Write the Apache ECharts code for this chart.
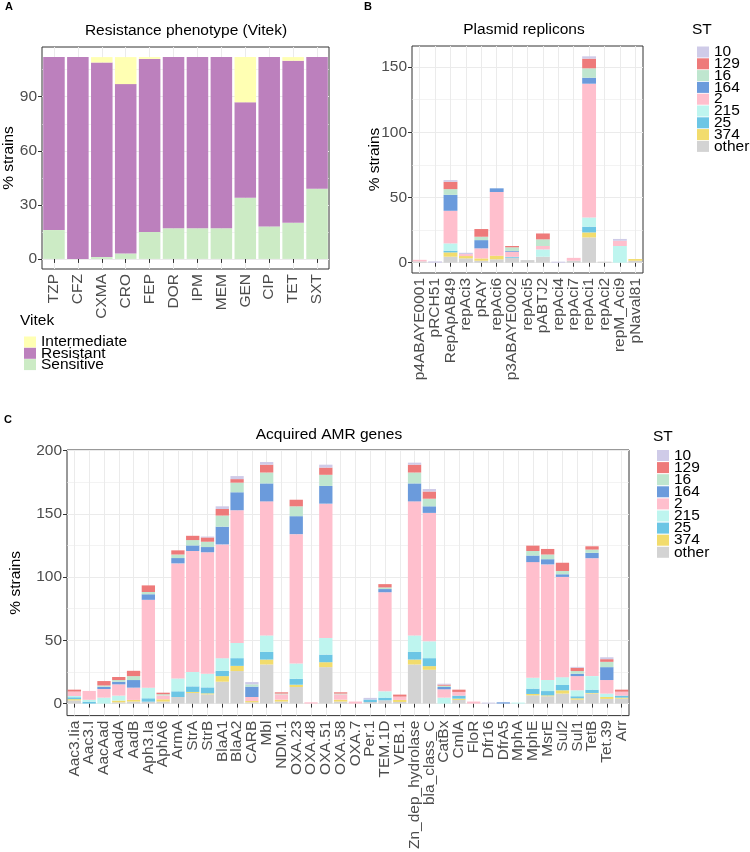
<!DOCTYPE html>
<html><head><meta charset="utf-8">
<script src="https://cdn.jsdelivr.net/npm/echarts@6/dist/echarts.min.js"></script>
<style>html,body{margin:0;padding:0;background:#fff}#c{width:750px;height:852px}</style>
</head><body><div id="c"></div><script>
// ---------- Panel A: Resistance phenotype (Vitek) ----------
const vitekCats = ['TZP','CFZ','CXMA','CRO','FEP','DOR','IPM','MEM','GEN','CIP','TET','SXT'];
const vitekSensitive    = [16, 0, 1, 3, 15, 17, 17, 17, 34, 18, 20, 39];
const vitekResistant    = [96, 112, 108, 94, 96, 95, 95, 95, 53, 94, 90, 73];
const vitekIntermediate = [0, 0, 3, 15, 1, 0, 0, 0, 25, 0, 2, 0];
const vitekTicks = [0, 30, 60, 90];
const vitekMinor = [15, 45, 75, 105];

// ---------- Panel B: Plasmid replicons ----------
const plasmidCats = ['p4ABAYE0001','pRCH51','RepApAB49','repAci3','pRAY','repAci6','p3ABAYE0002','repAci5','pABTJ2','repAci4','repAci7','repAci1','repAci2','repM_Aci9','pNaval81'];
const plasmidOther = [1, 0, 4.6, 3.3, 1.5, 2.6, 3.8, 2, 4.6, 0, 1.5, 19.4, 0.8, 0, 1.5];
const plasmid374   = [0, 0, 3.3, 1.8, 1.8, 2.8, 0, 0, 0, 0, 0, 3.8, 0, 0, 1.3];
const plasmid25    = [0, 0, 1.3, 0, 0, 0, 0.7, 0, 0, 0, 0, 4.4, 0, 0, 0];
const plasmid215   = [0, 0, 5.6, 0, 0, 0, 0, 0, 5.6, 0, 0, 7.1, 0, 12.8, 0];
const plasmid2     = [1.2, 0, 25, 1.5, 7.7, 48.8, 3.9, 0, 2.6, 0, 2.2, 102.5, 0, 4, 0];
const plasmid164   = [0, 0, 12.2, 0, 6.3, 2.8, 0.6, 0, 0, 0, 0, 4.6, 0, 0, 0];
const plasmid16    = [0, 0, 4.4, 0, 2.6, 0, 2.8, 0, 5.1, 0, 0, 7.2, 0, 0, 0];
const plasmid129   = [0, 0, 5.6, 0, 5.9, 0, 1.0, 0, 4.5, 0, 0, 7.4, 0, 0, 0];
const plasmid10    = [0, 1, 1.3, 1, 0, 0, 0, 0, 0, 0.8, 0, 1.8, 0, 1.4, 0];
const plasmidTicks = [0, 50, 100, 150];
const plasmidMinor = [25, 75, 125];

// ---------- Panel C: Acquired AMR genes ----------
const amrCats = ['Aac3.Iia','Aac3.I','AacAad','AadA','AadB','Aph3.Ia','AphA6','ArmA','StrA','StrB','BlaA1','BlaA2','CARB','Mbl','NDM.1','OXA.23','OXA.48','OXA.51','OXA.58','OXA.7','Per.1','TEM.1D','VEB.1','Zn_dep_hydrolase','bla_class_C','CatBx','CmlA','FloR','Dfr16','DfrA5','MphA','MphE','MsrE','Sul2','Sul1','TetB','Tet.39','Arr'];
const amrOther = [2.5,0,0,1,1.6,1.5,1.6,5.2,8.4,7.3,17.3,25.7,1,30.9,1.6,13.1,0,28.8,1.6,0,1.2,2.6,1.3,30.9,26.7,0,2.9,0,0,0,0,6.5,5.8,7.9,3.1,7.9,3.7,3.9];
const amr374   = [1,0,0,1.4,1.3,0,1.8,0,0.8,0.8,4.4,4.1,1,3.9,1.5,1.8,0,3.9,1.5,0,0,0,1.6,3.9,2.9,0,1,0,0,0,0,1.1,0.7,2.6,1.1,0.5,1.5,0.8];
const amr25    = [1.5,1.5,0,0,0,2.7,0,4.5,4.4,4.7,4.2,6.1,0,6,0,4.7,0,6,0,0,2,2.1,0,6,6.3,0,2.4,0,0,0,0,4.2,3.4,4.2,1.6,2.6,0,1.6];
const amr215   = [1,1.5,4.7,3.9,0,8.4,0,10.2,11.3,10.8,10,12,0,13.1,0,12.1,0,13.1,0,0,0,5,0,13.1,13.3,4.7,0,0,0,0,0.8,8.6,8.7,6.2,4.7,10.7,2.7,0];
const amr2     = [3.5,7,6.8,8.9,9.7,69.4,3,90.9,95.7,96,89.9,104.9,3.2,105.9,4.2,102.2,1,106.2,4.2,1.6,0,78.3,2.6,105.9,101.5,6.6,2.9,1.6,0,0,0,91.4,91.4,79.2,11.2,93.2,10.7,3.1];
const amr164   = [0,0,1.8,2.1,6,4.4,0,4.2,4.4,4.1,14,14.2,8.2,14.2,0,14.2,0,14,0,0,0,2.5,0,14.2,5.2,1.8,0,0,0,1,0,5.2,4.1,2.1,1.9,4.2,10.2,0];
const amr16    = [0,0,1,1.3,3.1,1.8,1,2.8,4.2,4.2,8.8,7.6,1.8,8.6,0.6,7.8,0,8.8,0.6,0,0,1.3,0,8.6,6,1,0,0,0,0,0,3.6,3.7,2.6,2.1,2.6,4.2,0];
const amr129   = [1.5,0,3.5,2.4,4.2,5.2,1.2,3.3,3.4,3.4,5.2,2.8,0,6.2,1,5.2,0,5.7,1,0,0,2.6,1.6,6.2,5.7,0.9,1.8,0,0,0,0,4.2,4.4,6.5,2.6,2.6,2.1,1.6];
const amr10    = [0,0,0,0,0,0,0,0,0,0.7,2.1,2.4,1.8,2.1,0,0,0,2.3,0,0,1.3,0,0,1.6,2,0.7,0,0,0.8,0,0,0,0,0,0.7,0,1.5,0];
const amrTicks = [0, 50, 100, 150, 200];
const amrMinor = [25, 75, 125, 175];

const stNames = ['10','129','16','164','2','215','25','374','other'];
const stColors = {'10':'#CFCBE8','129':'#EE7A7A','16':'#BFE6CF','164':'#6B9BDC','2':'#FFBFCD','215':'#BEF5EF','25':'#6CC6E5','374':'#F2DC6D','other':'#D3D3D3'};
const vitekColors = {Intermediate:'#FFFFB3', Resistant:'#BC80BD', Sensitive:'#CCEBC5'};

const FONT = '"Liberation Sans", Arial, sans-serif';
const TXT = '#4D4D4D';
const FS = 15.5;

function yAxes(gridIndex, min, max, major, minor, nameGap) {
  return [
    { type:'value', gridIndex, min, max, name:'% strains', nameLocation:'middle', nameGap, nameMoveOverlap:false,
      nameTextStyle:{fontSize:FS, color:'#000', fontFamily:FONT},
      axisLine:{show:false},
      axisTick:{show:true, length:4, lineStyle:{color:'#333'}, customValues:major},
      axisLabel:{customValues:major, fontSize:FS, color:TXT, margin:5, fontFamily:FONT},
      splitLine:{show:true, lineStyle:{color:'#EBEBEB', width:1}} },
    { type:'value', gridIndex, min, max, position:'right',
      axisLine:{show:false}, axisTick:{show:false, customValues:minor},
      axisLabel:{show:false, customValues:minor},
      splitLine:{show:true, lineStyle:{color:'#EBEBEB', width:0.6}} }
  ];
}
function xAxis(gridIndex, data) {
  return { type:'category', gridIndex, data,
    axisLine:{show:false},
    axisTick:{show:true, alignWithLabel:true, interval:0, length:4, lineStyle:{color:'#333'}},
    axisLabel:{rotate:90, interval:0, fontSize:FS, color:TXT, margin:5, fontFamily:FONT},
    splitLine:{show:true, alignWithLabel:true, interval:0, lineStyle:{color:'#EBEBEB', width:1}} };
}

const series = [];
[['Sensitive',vitekSensitive],['Resistant',vitekResistant],['Intermediate',vitekIntermediate]].forEach(([n,d])=>{
  series.push({type:'bar', name:n, xAxisIndex:0, yAxisIndex:0, stack:'A', data:d, barCategoryGap:'10%', itemStyle:{color:vitekColors[n]}});
});
const plasmidStack = [['other',plasmidOther],['374',plasmid374],['25',plasmid25],['215',plasmid215],['2',plasmid2],['164',plasmid164],['16',plasmid16],['129',plasmid129],['10',plasmid10]];
plasmidStack.forEach(([n,d])=>{
  series.push({type:'bar', name:n, xAxisIndex:1, yAxisIndex:2, stack:'B', data:d, barCategoryGap:'10%', itemStyle:{color:stColors[n]}});
});
const amrStack = [['other',amrOther],['374',amr374],['25',amr25],['215',amr215],['2',amr2],['164',amr164],['16',amr16],['129',amr129],['10',amr10]];
amrStack.forEach(([n,d])=>{
  series.push({type:'bar', name:n, xAxisIndex:2, yAxisIndex:4, stack:'C', data:d, barCategoryGap:'10%', itemStyle:{color:stColors[n]}});
});

function ttl(text, left, top, extra) {
  return Object.assign({text, left, top, padding:0, textStyle:{fontSize:FS, fontWeight:'normal', color:'#000', fontFamily:FONT}}, extra||{});
}
const legendBase = {orient:'vertical', padding:0, icon:'rect', itemWidth:12, itemHeight:11, selectedMode:false,
  textStyle:{fontSize:FS, color:'#000', fontFamily:FONT}};

const option = {
  animation:false,
  backgroundColor:'#fff',
  textStyle:{fontFamily:FONT},
  title:[
    ttl('A', 5, 1, {textStyle:{fontSize:11, fontWeight:'bold', color:'#000', fontFamily:FONT}}),
    ttl('B', 364, 1, {textStyle:{fontSize:11, fontWeight:'bold', color:'#000', fontFamily:FONT}}),
    ttl('C', 4, 414, {textStyle:{fontSize:11, fontWeight:'bold', color:'#000', fontFamily:FONT}}),
    ttl('Resistance phenotype (Vitek)', 186, 23, {textAlign:'center'}),
    ttl('Plasmid replicons', 524, 22, {textAlign:'center'}),
    ttl('Acquired AMR genes', 329, 427, {textAlign:'center'}),
    ttl('Vitek', 20, 313),
    ttl('ST', 692, 22),
    ttl('ST', 653, 429)
  ],
  legend:[
    Object.assign({}, legendBase, {left:24, top:334, itemGap:-4.7, data:['Intermediate','Resistant','Sensitive']}),
    Object.assign({}, legendBase, {left:697, top:44, itemGap:-4.2, data:stNames}),
    Object.assign({}, legendBase, {left:657, top:447.5, itemGap:-3.9, data:stNames})
  ],
  grid:[
    {left:42, top:47, width:287, height:222, show:true, borderColor:'#333', borderWidth:1, backgroundColor:'#fff'},
    {left:412, top:46, width:231, height:227, show:true, borderColor:'#333', borderWidth:1, backgroundColor:'#fff'},
    {left:55, top:450, width:574, height:268, show:true, borderColor:'#333', borderWidth:1, backgroundColor:'#fff'}
  ],
  xAxis:[ xAxis(0, vitekCats), xAxis(1, plasmidCats), xAxis(2, amrCats) ],
  yAxis:[
    ...yAxes(0, -5.6, 117.6, vitekTicks, vitekMinor, 25),
    ...yAxes(1, -7.9, 166.1, plasmidTicks, plasmidMinor, 29),
    ...yAxes(2, -9.5, 200.4, amrTicks, amrMinor, 43)
  ],
  series
};
const chart = echarts.init(document.getElementById('c'), null, {renderer:'canvas'});
chart.setOption(option);
</script></body></html>
